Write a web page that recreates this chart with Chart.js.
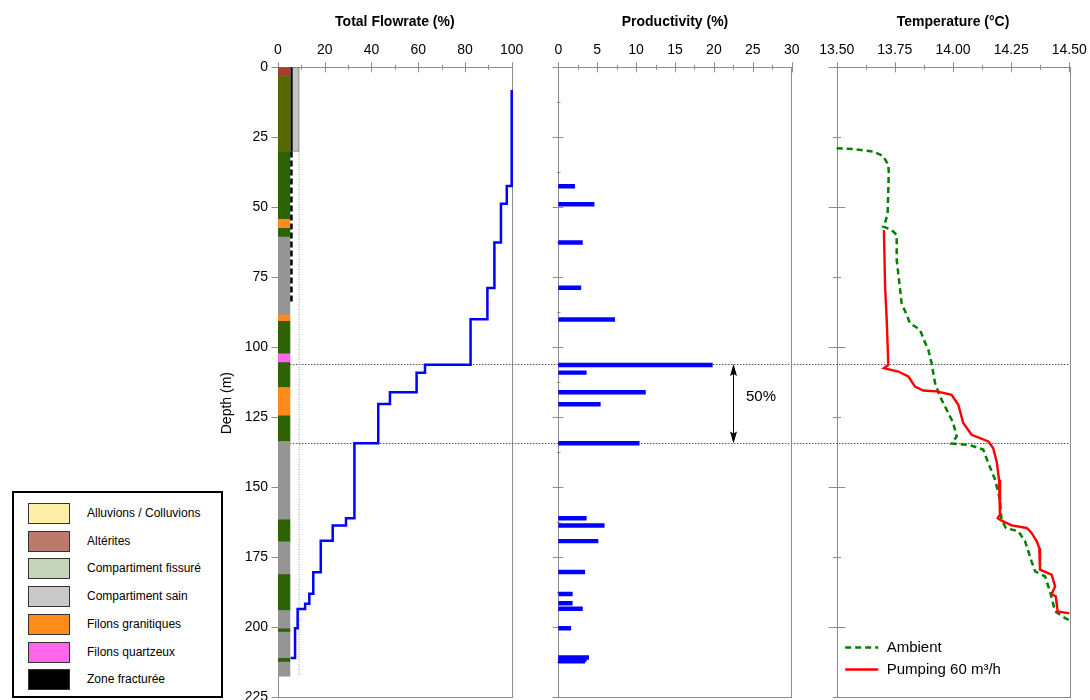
<!DOCTYPE html>
<html>
<head>
<meta charset="utf-8">
<script src="https://cdn.jsdelivr.net/npm/chart.js@4.4.1/dist/chart.umd.min.js"></script>
<style>
  html, body { margin: 0; padding: 0; background: #fff; }
  body { width: 1090px; height: 700px; position: relative; overflow: hidden; font-family: "Liberation Sans", Arial, sans-serif; }
  canvas { position: absolute; left: 0; top: 0; }
  .leyenda { position: absolute; left: 12px; top: 491px; width: 211px; height: 207px; border: 2px solid #000; box-sizing: border-box; background: #fff; }
  .fila { position: absolute; left: 14px; height: 21px; width: 190px; }
  .muestra { position: absolute; left: 0; top: 0; width: 42px; height: 21px; border: 1.5px solid #333; box-sizing: border-box; }
  .nombre { position: absolute; left: 59px; top: 0; line-height: 21px; font-size: 12px; color: #000; white-space: nowrap; }
</style>
</head>
<body>
<canvas id="graficaCaudal" width="1090" height="700"></canvas>
<canvas id="graficaProductividad" width="1090" height="700"></canvas>
<canvas id="graficaTemperatura" width="1090" height="700"></canvas>
<div class="leyenda" id="leyenda"></div>
<script>
// ---- datos (profundidad en m) ----

// columna litologica
const capaTecho = [0, 3.3, 30.1, 54.3, 57.5, 60.7, 88.5, 90.8, 102.4, 105.5, 114.4, 124.5, 133.7, 161.7, 169.6, 181.3, 194.1, 200.6, 201.8, 211.2, 212.5]
const capaBase  = [3.3, 30.1, 54.3, 57.5, 60.7, 88.5, 90.8, 102.4, 105.5, 114.4, 124.5, 133.7, 161.7, 169.6, 181.3, 194.1, 200.6, 201.8, 211.2, 212.5, 217.6]
const capaTipo  = ['alt', 'altfis', 'fis', 'gran', 'fis', 'sain', 'gran', 'fis', 'quartz', 'fis', 'gran', 'fis', 'sain', 'fis', 'sain', 'fis', 'sain', 'fis', 'sain', 'fis', 'sain']

// entubado y pozo
const tuboFondo = 30.1
const bombaProf = 84
const pozoFondo = 217.6

// caudal total acumulado (%)
const caudalProf = [8.1, 42.4, 48.8, 62.6, 78.9, 90.0, 106.3, 109.1, 116.1, 120.3, 134.3, 161.1, 163.7, 169.2, 180.4, 188.1, 191.7, 193.6, 200.4, 211.1]
const caudal     = [100, 97.9, 95.4, 92.6, 89.6, 82.4, 62.9, 59.3, 47.9, 42.9, 32.7, 29.1, 23.4, 18.3, 15.1, 13.4, 11.6, 8.4, 7.3, 5.4]

// productividad (%)
const prodProf = [42.5, 48.9, 62.6, 78.8, 90.1, 106.4, 109.1, 116.1, 120.4, 134.3, 161.1, 163.7, 169.3, 180.3, 188.2, 191.5, 193.5, 200.4, 210.9, 211.6, 212.2]
const prod     = [2.1, 4.6, 3.1, 2.9, 7.25, 19.8, 3.6, 11.2, 5.4, 10.4, 3.6, 5.9, 5.1, 3.4, 1.8, 1.8, 3.1, 1.6, 3.9, 3.6, 3.4]

// zona del 50 %
const profCorte = [106.0, 134.4]
const flechaX = 22.5
const textoFlecha = '50%'

// temperatura ambiente
const tempAmbProf = [28.9, 29.2, 30.1, 31.7, 34.9, 37.9, 46.2, 52.1, 55.7, 56.9, 58.1, 59.9, 68.8, 76.0, 84.3, 87.9, 91.4, 93.8, 97.4, 101.0, 105.7, 112.9, 117.6, 122.4, 127.1, 131.9, 134.4, 135.0, 136.6, 141.4, 147.4, 154.5, 160.5, 161.7, 164.6, 165.8, 169.4, 176.6, 180.1, 181.9, 187.3, 194.4, 196.8, 197.5]
const tempAmb     = [13.50, 13.571, 13.657, 13.70, 13.722, 13.724, 13.721, 13.719, 13.708, 13.70, 13.736, 13.758, 13.758, 13.768, 13.779, 13.798, 13.815, 13.858, 13.875, 13.894, 13.908, 13.923, 13.944, 13.973, 14.001, 14.016, 13.994, 14.073, 14.130, 14.152, 14.181, 14.202, 14.207, 14.209, 14.227, 14.281, 14.31, 14.338, 14.353, 14.396, 14.417, 14.439, 14.482, 14.5]

// temperatura en bombeo 60 m3/h
const tempBombProf = [58.1, 78.3, 90.2, 106.3, 107.5, 108.7, 110.5, 114.1, 115.5, 115.8, 117.0, 120.6, 127.1, 131.3, 133.7, 136.1, 141.0, 147.4, 153.4, 159.9, 161.1, 162.0, 163.7, 164.6, 166.4, 169.4, 171.8, 179.5, 181.3, 185.5, 188.2, 189.1, 194.4, 195.1]
const tempBomb     = [13.703, 13.708, 13.715, 13.722, 13.703, 13.765, 13.808, 13.837, 13.872, 13.930, 13.994, 14.023, 14.044, 14.080, 14.152, 14.173, 14.188, 14.198, 14.202, 14.202, 14.192, 14.209, 14.252, 14.317, 14.338, 14.360, 14.371, 14.374, 14.424, 14.439, 14.424, 14.442, 14.450, 14.5]

// leyenda litologica
const nombresLeyenda = ['Alluvions / Colluvions', 'Altérites', 'Compartiment fissuré', 'Compartiment sain', 'Filons granitiques', 'Filons quartzeux', 'Zone fracturée']
const coloresLeyenda = ['#fdeea8', '#ba7b6c', '#c5d4bb', '#c9c9c9', '#ff8c1a', '#ff66ee', '#000000']

// ---- estilo ----
const colorCapa = { alt: '#a3402c', altfis: '#576800', fis: '#2d6304', sain: '#959595', gran: '#ff8a1c', quartz: '#ff66ee' }
const colCentro = 2.55
const tuboX = 5.75
const paredX = 9.05
const tuboCentro = 7.6

const zonas = [
  { left: 278, right: 511.7 },
  { left: 558.3, right: 791.7 },
  { left: 836.7, right: 1069.3 }
]
const arriba = 67.3
const abajo = 697
const anchoEjeY = 60

Chart.defaults.font.family = '"Liberation Sans", Arial, sans-serif'
Chart.defaults.color = '#000'

function puntos(xs, ys) {
  let p = []
  for (let i = 0; i < xs.length; i++) {
    p[i] = { x: xs[i], y: ys[i] }
  }
  return p
}

function ejeSuperior(min, max, paso, titulo, etiqueta) {
  return {
    type: 'linear', position: 'top', min: min, max: max, offset: false,
    grid: { display: false, drawTicks: false }, border: { display: false },
    title: { display: true, text: titulo, color: '#000', font: { size: 14, weight: 'bold' }, padding: { top: 14, bottom: 0 } },
    ticks: { stepSize: paso, autoSkip: false, maxRotation: 0, color: '#000', font: { size: 14 }, padding: 8.4, callback: etiqueta },
    afterFit: s => { s.height = arriba; s.paddingLeft = 0; s.paddingRight = 0 }
  }
}

function ejeProfundidad(paso, conEtiquetas) {
  return {
    type: 'linear', reverse: true, min: 0, max: 225, offset: false, stacked: false,
    grid: { display: false, drawTicks: false }, border: { display: false },
    ticks: { display: conEtiquetas, stepSize: paso, autoSkip: false, color: '#000', font: { size: 14 }, padding: 10 },
    afterFit: s => { s.width = anchoEjeY; s.paddingTop = 0; s.paddingBottom = 0 }
  }
}

function opciones(zona, ejeX, ejeY) {
  return {
    responsive: false,
    animation: false,
    events: [],
    layout: { padding: { left: zona.left - anchoEjeY, right: 1090 - zona.right, top: 0, bottom: 700 - abajo } },
    plugins: { legend: { display: false }, tooltip: { enabled: false } },
    scales: { x: ejeX, y: ejeY }
  }
}

// marco y marcas de los ejes (cruzan el eje)
function marcas(marcaX, marcaY) {
  return {
    id: 'marcas',
    beforeDatasetsDraw(chart) {
      const { ctx, chartArea: a, scales: { x, y } } = chart
      ctx.save()
      ctx.strokeStyle = '#8c8c8c'
      ctx.lineWidth = 1
      ctx.strokeRect(Math.round(a.left) + 0.5, Math.round(a.top) + 0.5, Math.round(a.right - a.left), Math.round(a.bottom - a.top))
      ctx.beginPath()
      x.ticks.forEach(t => {
        const px = Math.round(x.getPixelForValue(t.value)) + 0.5
        const h = marcaX(t.value) ? 5 : 2.5
        ctx.moveTo(px, a.top - h)
        ctx.lineTo(px, a.top + h)
      })
      y.ticks.forEach(t => {
        const m = marcaY(t.value)
        if (!m) return
        const py = Math.round(y.getPixelForValue(t.value)) + 0.5
        ctx.moveTo(Math.round(a.left) - m[0], py)
        ctx.lineTo(Math.round(a.left) + m[1], py)
      })
      ctx.stroke()
      ctx.restore()
    }
  }
}

function multiplo(v, m) {
  return Math.abs(v / m - Math.round(v / m)) < 1e-6
}

// lineas punteadas que cruzan los tres paneles
const lineasCorte = {
  id: 'lineasCorte',
  beforeDatasetsDraw(chart) {
    const { ctx, scales: { x, y } } = chart
    const x0 = x.getPixelForValue(2 * colCentro)
    ctx.save()
    ctx.strokeStyle = '#555'
    ctx.lineWidth = 1
    ctx.setLineDash([1.5, 1.5])
    profCorte.forEach(p => {
      const py = Math.round(y.getPixelForValue(p)) + 0.5
      ctx.beginPath()
      ctx.moveTo(x0, py)
      ctx.lineTo(zonas[2].right, py)
      ctx.stroke()
    })
    ctx.restore()
  }
}

const tituloProf = {
  id: 'tituloProf',
  afterDraw(chart) {
    const { ctx, chartArea: a, scales: { y } } = chart
    ctx.save()
    ctx.translate(a.left - 51.3, y.getPixelForValue(120))
    ctx.rotate(-Math.PI / 2)
    ctx.textAlign = 'center'
    ctx.textBaseline = 'middle'
    ctx.font = '14px "Liberation Sans", Arial, sans-serif'
    ctx.fillStyle = '#000'
    ctx.fillText('Depth (m)', 0, 0)
    ctx.restore()
  }
}

function punta(ctx, x, y, dir) {
  ctx.beginPath()
  ctx.moveTo(x, y)
  ctx.lineTo(x - 3.5, y + dir * 12)
  ctx.lineTo(x, y + dir * 10)
  ctx.lineTo(x + 3.5, y + dir * 12)
  ctx.closePath()
  ctx.fill()
}

const flecha = {
  id: 'flecha',
  afterDatasetsDraw(chart) {
    const { ctx, scales: { x, y } } = chart
    const px = Math.round(x.getPixelForValue(flechaX)) + 0.5
    const y0 = y.getPixelForValue(profCorte[0])
    const y1 = y.getPixelForValue(profCorte[1])
    ctx.save()
    ctx.strokeStyle = '#000'
    ctx.fillStyle = '#000'
    ctx.lineWidth = 1
    ctx.beginPath()
    ctx.moveTo(px, y0 + 8)
    ctx.lineTo(px, y1 - 8)
    ctx.stroke()
    punta(ctx, px, y0, 1)
    punta(ctx, px, y1, -1)
    ctx.font = '15px "Liberation Sans", Arial, sans-serif'
    ctx.textBaseline = 'middle'
    ctx.fillText(textoFlecha, px + 12.5, (y0 + y1) / 2 - 7)
    ctx.restore()
  }
}

const leyendaTemp = {
  id: 'leyendaTemp',
  afterDraw(chart) {
    const { ctx, chartArea: a } = chart
    chart.data.datasets.slice().reverse().forEach((d, i) => {
      const yy = Math.round(a.bottom - 50.3 + i * 22.6) + 0.5
      ctx.save()
      ctx.strokeStyle = d.borderColor
      ctx.lineWidth = d.borderWidth
      ctx.setLineDash(d.borderDash || [])
      ctx.beginPath()
      ctx.moveTo(a.left + 8.5, yy)
      ctx.lineTo(a.left + 41.5, yy)
      ctx.stroke()
      ctx.fillStyle = '#000'
      ctx.font = '15px "Liberation Sans", Arial, sans-serif'
      ctx.textBaseline = 'middle'
      ctx.fillText(d.label, a.left + 50, yy + 0.5)
      ctx.restore()
    })
  }
}

// ---- panel 1: caudal total ----
let capas = []
let coloresCapas = []
for (let i = 0; i < capaTecho.length; i++) {
  capas[i] = { x: colCentro, y: [capaTecho[i], capaBase[i]] }
  coloresCapas[i] = colorCapa[capaTipo[i]]
}

const graficaCaudal = new Chart(document.getElementById('graficaCaudal'), {
  type: 'line',
  data: {
    datasets: [
      { label: 'Total Flowrate', data: puntos(caudal, caudalProf), stepped: 'after', borderColor: '#0000ff', borderWidth: 2.5, pointRadius: 0, clip: false },
      { data: puntos([tuboX, tuboX], [0, tuboFondo]), borderColor: '#000', borderWidth: 2, pointRadius: 0, clip: false },
      { data: puntos([tuboX, tuboX], [tuboFondo, bombaProf]), borderColor: '#000', borderWidth: 2.5, borderDash: [6, 3], pointRadius: 0, clip: false },
      { data: puntos([paredX, paredX], [tuboFondo, pozoFondo]), borderColor: '#9a9a9a', borderWidth: 1, borderDash: [1, 1.5], pointRadius: 0, clip: false },
      { type: 'bar', stack: 'col', data: [{ x: tuboCentro, y: [0, tuboFondo] }], backgroundColor: '#c4c4c4', borderColor: '#7a7a7a', borderWidth: 1, borderSkipped: false, barThickness: 7 },
      { type: 'bar', stack: 'col', data: capas, backgroundColor: coloresCapas, borderWidth: 0, barThickness: 12 }
    ]
  },
  options: opciones(zonas[0],
    ejeSuperior(0, 100, 10, 'Total Flowrate (%)', v => multiplo(v, 20) ? v : ''),
    ejeProfundidad(25, true)),
  plugins: [marcas(v => multiplo(v, 20), v => [6.5, 0]), lineasCorte, tituloProf]
})

// ---- panel 2: productividad ----
const graficaProductividad = new Chart(document.getElementById('graficaProductividad'), {
  type: 'bar',
  data: {
    datasets: [
      { label: 'Productivity', data: puntos(prod, prodProf), backgroundColor: '#0000ff', borderWidth: 0, barThickness: 3.8 }
    ]
  },
  options: Object.assign(opciones(zonas[1],
    ejeSuperior(0, 30, 2.5, 'Productivity (%)', v => multiplo(v, 5) ? v : ''),
    ejeProfundidad(12.5, false)), { indexAxis: 'y' }),
  plugins: [marcas(v => multiplo(v, 5), v => multiplo(v, 25) ? [5.3, 5.3] : [1, 2.5]), flecha]
})

// ---- panel 3: temperatura ----
const graficaTemperatura = new Chart(document.getElementById('graficaTemperatura'), {
  type: 'line',
  data: {
    datasets: [
      { label: 'Pumping 60 m³/h', data: puntos(tempBomb, tempBombProf), borderColor: '#ff0000', borderWidth: 2.4, pointRadius: 0, clip: false },
      { label: 'Ambient', data: puntos(tempAmb, tempAmbProf), borderColor: '#008000', borderWidth: 2.5, borderDash: [6, 4], pointRadius: 0, clip: false }
    ]
  },
  options: opciones(zonas[2],
    ejeSuperior(13.5, 14.5, 0.125, 'Temperature (°C)', v => multiplo(v, 0.25) ? v.toFixed(2) : ''),
    ejeProfundidad(12.5, false)),
  plugins: [marcas(v => multiplo(v, 0.25), v => multiplo(v, 50) ? [8.3, 8.3] : (multiplo(v, 25) ? [4, 4] : null)), leyendaTemp]
})

// ---- leyenda litologica ----
const leyenda = document.getElementById('leyenda')
for (let i = 0; i < nombresLeyenda.length; i++) {
  const fila = document.createElement('div')
  fila.className = 'fila'
  fila.style.top = (10 + i * 27.7) + 'px'

  const muestra = document.createElement('div')
  muestra.className = 'muestra'
  muestra.style.background = coloresLeyenda[i]

  const nombre = document.createElement('div')
  nombre.className = 'nombre'
  nombre.textContent = nombresLeyenda[i]

  fila.appendChild(muestra)
  fila.appendChild(nombre)
  leyenda.appendChild(fila)
}
</script>
</body>
</html>
